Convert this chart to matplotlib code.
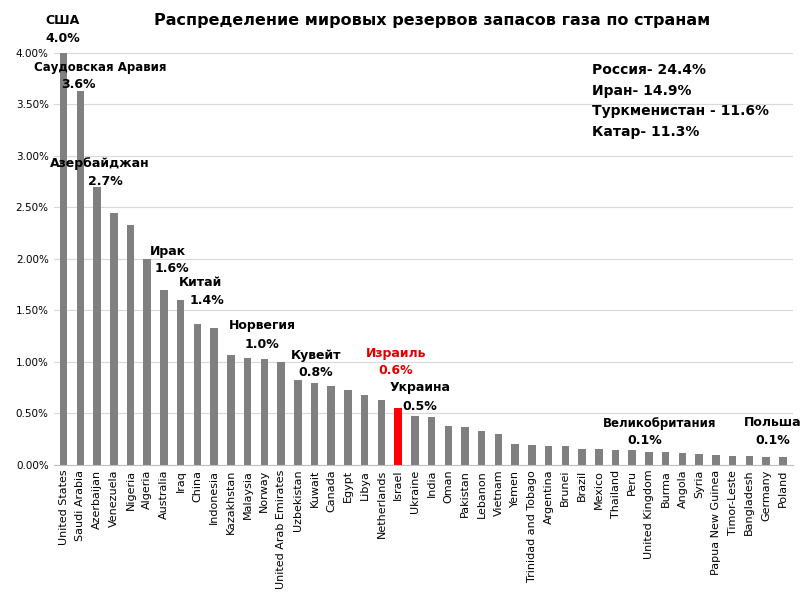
import matplotlib
matplotlib.use("Agg")
import matplotlib.pyplot as plt
from matplotlib.ticker import FuncFormatter

countries = ["United States","Saudi Arabia","Azerbaijan","Venezuela","Nigeria","Algeria","Australia","Iraq","China","Indonesia","Kazakhstan","Malaysia","Norway","United Arab Emirates","Uzbekistan","Kuwait","Canada","Egypt","Libya","Netherlands","Israel","Ukraine","India","Oman","Pakistan","Lebanon","Vietnam","Yemen","Trinidad and Tobago","Argentina","Brunei","Brazil","Mexico","Thailand","Peru","United Kingdom","Burma","Angola","Syria","Papua New Guinea","Timor-Leste","Bangladesh","Germany","Poland"]
values = [4.0,3.63,2.7,2.45,2.33,2.0,1.7,1.6,1.37,1.33,1.07,1.04,1.03,1.0,0.82,0.8,0.77,0.73,0.68,0.63,0.55,0.48,0.47,0.38,0.37,0.33,0.30,0.20,0.19,0.18,0.18,0.16,0.16,0.15,0.15,0.13,0.13,0.12,0.11,0.10,0.09,0.09,0.08,0.08]
highlight = "Israel"
annot_names = ["США", "Саудовская Аравия", "Азербайджан", "Ирак", "Китай", "Норвегия", "Кувейт", "Израиль", "Украина", "Великобритания", "Польша"]
annot_values = ["4.0%", "3.6%", "2.7%", "1.6%", "1.4%", "1.0%", "0.8%", "0.6%", "0.5%", "0.1%", "0.1%"]
annot_countries = ["United States", "Saudi Arabia", "Azerbaijan", "Iraq", "China", "Norway", "Kuwait", "Israel", "Ukraine", "United Kingdom", "Poland"]
box_text = "Россия- 24.4%\nИран- 14.9%\nТуркменистан - 11.6%\nКатар- 11.3%"

# label layout: (name x, name y, value x, value y) in figure pixels
layout = [(63, 20, 63, 38), (100, 67, 78, 85), (100, 163, 105, 181), (168, 251, 172, 268),
          (200, 283, 207, 300), (262, 326, 262, 345), (316, 355, 316, 373), (396, 353, 396, 370),
          (420, 388, 420, 406), (660, 423, 645, 441), (773, 423, 773, 441)]

plt.rcParams["font.family"] = "DejaVu Sans"
fig = plt.figure(figsize=(8, 6), dpi=100)
ax = fig.add_axes([0.067, 0.225, 0.924, 0.687])
x = range(len(countries))
colors = ["#ff0000" if c == highlight else "#808080" for c in countries]
ax.bar(x, values, width=0.45, color=colors)
ax.set_xlim(-0.6, len(countries) - 0.4)
ax.set_ylim(0, 4.0)
ax.set_yticks([0, 0.5, 1, 1.5, 2, 2.5, 3, 3.5, 4])
ax.yaxis.set_major_formatter(FuncFormatter(lambda v, p: f"{v:.2f}%"))
ax.tick_params(axis="y", labelsize=7.5, length=0)
ax.set_xticks(list(x))
ax.set_xticklabels(countries, rotation=90, fontsize=8)
ax.tick_params(axis="x", length=0)
ax.grid(axis="y", color="#d9d9d9", linewidth=0.8)
ax.set_axisbelow(True)
for s in ["top", "right", "left"]:
    ax.spines[s].set_visible(False)
ax.spines["bottom"].set_color("#bfbfbf")

for name, val, c, (nx, ny, vx, vy) in zip(annot_names, annot_values, annot_countries, layout):
    col = "#e00000" if c == highlight else "black"
    fs = 8.5 if len(name) > 12 else 9
    fig.text(nx / 800, 1 - ny / 600, name, ha="center", va="center", fontsize=fs, fontweight="bold", color=col)
    fig.text(vx / 800, 1 - vy / 600, val, ha="center", va="center", fontsize=9, fontweight="bold", color=col)

fig.text(0.54, 0.965, "Распределение мировых резервов запасов газа по странам", ha="center", va="center", fontsize=11.5, fontweight="bold")
fig.text(0.74, 0.895, box_text, ha="left", va="top", fontsize=10, fontweight="bold", linespacing=1.6)
fig.savefig("out.png", dpi=100)
